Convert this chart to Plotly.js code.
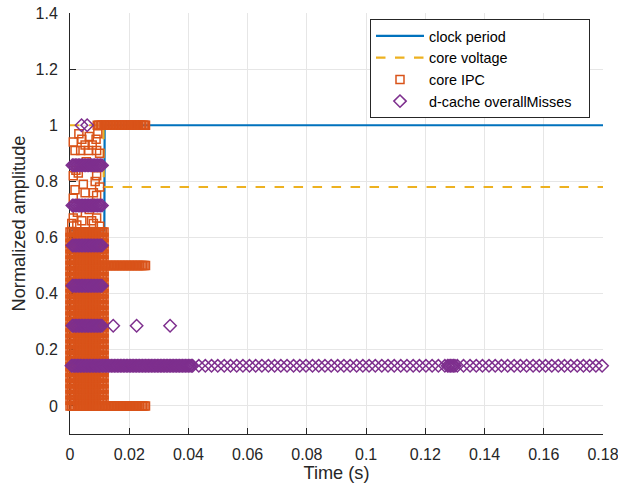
<!DOCTYPE html>
<html>
<head>
<meta charset="utf-8">
<script src="https://cdn.plot.ly/plotly-3.0.1.min.js"></script>
<style>html,body{margin:0;padding:0;background:#fff;}#chart{width:618px;height:491px;}</style>
</head>
<body>
<div id="chart"></div>
<script>
// ---- clock period (normalized) ----
var clockT = [0, 0.0116, 0.0117, 0.18];
var clockV = [0.625, 0.625, 1, 1];

// ---- core voltage (normalized) ----
var voltT = [0, 0.0113, 0.0114, 0.18];
var voltV = [1, 1, 0.78, 0.78];

// ---- core IPC: dense block of samples during the first phase ----
var ipcDenseT = [0, 0.0005, 0.001, 0.0015, 0.002, 0.0025, 0.003, 0.0035, 0.004, 0.0045, 0.005, 0.0055,
                 0.006, 0.0065, 0.007, 0.0075, 0.008, 0.0085, 0.009, 0.0095, 0.01, 0.0105, 0.011, 0.0115];
var ipcDenseLevels = [0, 0.02, 0.04, 0.06, 0.08, 0.1, 0.12, 0.14, 0.16, 0.18, 0.2, 0.22, 0.24, 0.26, 0.28, 0.3,
                      0.32, 0.34, 0.36, 0.38, 0.4, 0.42, 0.44, 0.46, 0.48, 0.5, 0.52, 0.54, 0.56, 0.58, 0.6, 0.62];
// scattered high IPC samples in the first phase
var ipcScatterT = [0.0011, 0.0040, 0.0065, 0.0088, 0.0017, 0.0036, 0.0062, 0.0090, 0.0051, 0.0094,
                   0.0011, 0.0090, 0.0017, 0.0011, 0.0051, 0.0079, 0.0090, 0.0011, 0.0040, 0.0073,
                   0.0090, 0.0023, 0.0006, 0.0079, 0.0028, 0.0085, 0.0030, 0.0075, 0.0100, 0.0045,
                   0.0065, 0.0025, 0.0100, 0.0055, 0.0020, 0.0100];
var ipcScatterV = [0.94, 0.95, 0.96, 0.95, 0.91, 0.91, 0.91, 0.91, 0.93, 0.97,
                   0.82, 0.82, 0.77, 0.74, 0.76, 0.76, 0.75, 0.67, 0.66, 0.66,
                   0.67, 0.645, 0.65, 0.65, 0.83, 0.80, 0.97, 0.93, 0.90, 0.79,
                   0.70, 0.69, 0.64, 0.87, 0.84, 0.78];
// second phase: IPC toggles between 1, 0.5 and 0
var ipcHighT = [0.0092, 0.0097, 0.0102, 0.0107, 0.0112, 0.0117, 0.0122, 0.0127, 0.0132, 0.0137, 0.0142,
                0.0147, 0.0152, 0.0157, 0.0162, 0.0167, 0.0172, 0.0177, 0.0182, 0.0187, 0.0192, 0.0197,
                0.0202, 0.0207, 0.0212, 0.0217, 0.0222, 0.0227, 0.0232, 0.0237, 0.0242, 0.0247, 0.0252, 0.0255];
var ipcHighV = 1;
var ipcMidT = [0.012, 0.0125, 0.013, 0.0135, 0.014, 0.0145, 0.015, 0.0155, 0.016, 0.0165, 0.017, 0.0175,
               0.018, 0.0185, 0.019, 0.0195, 0.02, 0.0205, 0.021, 0.0215, 0.022, 0.0225, 0.023, 0.0235,
               0.024, 0.0245, 0.025, 0.0255];
var ipcMidV = 0.5;
var ipcLowT = [0.012, 0.0125, 0.013, 0.0135, 0.014, 0.0145, 0.015, 0.0155, 0.016, 0.0165, 0.017, 0.0175,
               0.018, 0.0185, 0.019, 0.0195, 0.02, 0.0205, 0.021, 0.0215, 0.022, 0.0225, 0.023, 0.0235,
               0.024, 0.0245, 0.025, 0.0255];
var ipcLowV = 0;

// ---- d-cache overallMisses (levels are multiples of 1/7) ----
var missDenseT = [0.0008, 0.0013, 0.0018, 0.0023, 0.0028, 0.0033, 0.0038, 0.0043, 0.0048, 0.0053, 0.0058,
                  0.0063, 0.0068, 0.0073, 0.0078, 0.0083, 0.0088, 0.0093, 0.0098, 0.0103, 0.0108];
var missDenseLevels = [2/7, 3/7, 4/7, 5/7, 6/7];
var missTopT = [0.0039, 0.0058];
var missTopV = 1;
var missL2T = [0.0146, 0.0225, 0.0338];
var missL2V = 2/7;
var missL1T = [0.0005, 0.001, 0.0015, 0.002, 0.0025, 0.003, 0.0035, 0.004, 0.0045, 0.005, 0.0055, 0.006,
  0.0065, 0.007, 0.0075, 0.008, 0.0085, 0.009, 0.0095, 0.01, 0.0105, 0.011, 0.0115, 0.012, 0.0125, 0.013,
  0.0135, 0.014, 0.0145, 0.015, 0.0155, 0.016, 0.0165, 0.017, 0.0175, 0.018, 0.0185, 0.019, 0.0195, 0.02,
  0.0205, 0.021, 0.0215, 0.022, 0.0225, 0.023, 0.0235, 0.024, 0.0245, 0.025, 0.0255, 0.026, 0.0265, 0.027,
  0.0275, 0.028, 0.0285, 0.029, 0.0295, 0.03, 0.0305, 0.031, 0.0315, 0.032, 0.0325, 0.033, 0.0335, 0.034,
  0.0345, 0.035, 0.0355, 0.036, 0.0365, 0.037, 0.0375, 0.038, 0.0385, 0.039, 0.0395, 0.04, 0.0405, 0.041,
  0.0414, 0.0435, 0.0457, 0.0478, 0.0499, 0.0521, 0.0542, 0.0563, 0.0584, 0.0606, 0.0627, 0.0648, 0.0670,
  0.0691, 0.0712, 0.0733, 0.0755, 0.0776, 0.0797, 0.0819, 0.0840, 0.0861, 0.0882, 0.0904, 0.0925, 0.0946,
  0.0968, 0.0989, 0.1010, 0.1031, 0.1053, 0.1074, 0.1095, 0.1117, 0.1138, 0.1159, 0.1180, 0.1202, 0.1223,
  0.1244, 0.1266, 0.1275, 0.1280, 0.1285, 0.1290, 0.1295, 0.1300, 0.1308, 0.1329, 0.1351, 0.1372, 0.1393,
  0.1415, 0.1436, 0.1457, 0.1478, 0.1500, 0.1521, 0.1542, 0.1564, 0.1585, 0.1606, 0.1627, 0.1649, 0.1670,
  0.1691, 0.1713, 0.1734, 0.1755, 0.1776, 0.1797];
var missL1V = 1/7;

// ---- tick labels ----
var xTicks = [0, 0.02, 0.04, 0.06, 0.08, 0.1, 0.12, 0.14, 0.16, 0.18];
var xTickText = ['0', '0.02', '0.04', '0.06', '0.08', '0.1', '0.12', '0.14', '0.16', '0.18'];
var yTicks = [0, 0.2, 0.4, 0.6, 0.8, 1, 1.2, 1.4];
var yTickText = ['0', '0.2', '0.4', '0.6', '0.8', '1', '1.2', '1.4'];

// ---- build point sets ----
var ipcX = [], ipcY = [];
ipcDenseT.forEach(function(t){ ipcDenseLevels.forEach(function(v){ ipcX.push(t); ipcY.push(v); }); });
ipcScatterT.forEach(function(t, i){ ipcX.push(t); ipcY.push(ipcScatterV[i]); });
ipcHighT.forEach(function(t){ ipcX.push(t); ipcY.push(ipcHighV); });
ipcMidT.forEach(function(t){ ipcX.push(t); ipcY.push(ipcMidV); });
ipcLowT.forEach(function(t){ ipcX.push(t); ipcY.push(ipcLowV); });

var missX = [], missY = [];
missDenseT.forEach(function(t){ missDenseLevels.forEach(function(v){ missX.push(t); missY.push(v); }); });
missTopT.forEach(function(t){ missX.push(t); missY.push(missTopV); });
missL2T.forEach(function(t){ missX.push(t); missY.push(missL2V); });
missL1T.forEach(function(t){ missX.push(t); missY.push(missL1V); });

var C_BLUE = '#0072BD', C_ORANGE = '#D95319', C_YELLOW = '#EDB120', C_PURPLE = '#7E2F8E';
var FONT = 'Liberation Sans, Arial, Helvetica, sans-serif';
var AX = '#262626';
var PAD = '\u00a0\u00a0\u00a0';

var traces = [
  {x: clockT, y: clockV, type: 'scatter', mode: 'lines', name: 'clock period',
   line: {color: C_BLUE, width: 2.2}, cliponaxis: false},
  {x: voltT, y: voltV, type: 'scatter', mode: 'lines', name: 'core voltage',
   line: {color: C_YELLOW, width: 2.2, dash: '9.5px,9.5px'}, cliponaxis: false},
  {x: ipcX, y: ipcY, type: 'scatter', mode: 'markers', name: 'core IPC',
   marker: {symbol: 'square-open', size: 8, color: C_ORANGE, line: {width: 1.5}}, cliponaxis: false},
  {x: missX, y: missY, type: 'scatter', mode: 'markers', name: 'd-cache overallMisses' + PAD,
   marker: {symbol: 'diamond-open', size: 9.5, color: C_PURPLE, line: {width: 1.5}}, cliponaxis: false}
];

var layout = {
  width: 618, height: 491,
  margin: {l: 70, r: 15, t: 13, b: 57},
  paper_bgcolor: '#fff', plot_bgcolor: '#fff',
  font: {family: FONT, size: 16, color: AX},
  showlegend: true,
  legend: {x: 0.9756, y: 0.9855, xanchor: 'right', yanchor: 'top',
           bgcolor: '#fff', bordercolor: AX, borderwidth: 1,
           font: {family: FONT, size: 14.4, color: '#000'},
           itemwidth: 48, tracegroupgap: 0},
  xaxis: {range: [0, 0.180001], tickvals: xTicks, ticktext: xTickText,
          showgrid: true, gridcolor: '#e6e6e6', gridwidth: 1, zeroline: false,
          showline: true, linecolor: AX, linewidth: 1, ticks: 'inside', ticklen: 6, tickcolor: AX,
          layer: 'below traces', tickfont: {size: 16, color: AX}, ticklabelstandoff: 6,
          ticklabeloverflow: 'allow',
          title: {text: 'Time (s)', font: {size: 18.2, color: AX}, standoff: 0}},
  yaxis: {range: [-0.1, 1.4], tickvals: yTicks, ticktext: yTickText,
          showgrid: true, gridcolor: '#e6e6e6', gridwidth: 1, zeroline: false,
          showline: true, linecolor: AX, linewidth: 1, ticks: 'inside', ticklen: 6, tickcolor: AX,
          layer: 'below traces', tickfont: {size: 16, color: AX}, ticklabelstandoff: 8,
          title: {text: 'Normalized amplitude', font: {size: 18.2, color: AX}, standoff: 5}}
};

Plotly.newPlot('chart', traces, layout, {displayModeBar: false, staticPlot: true});
</script>
</body>
</html>
